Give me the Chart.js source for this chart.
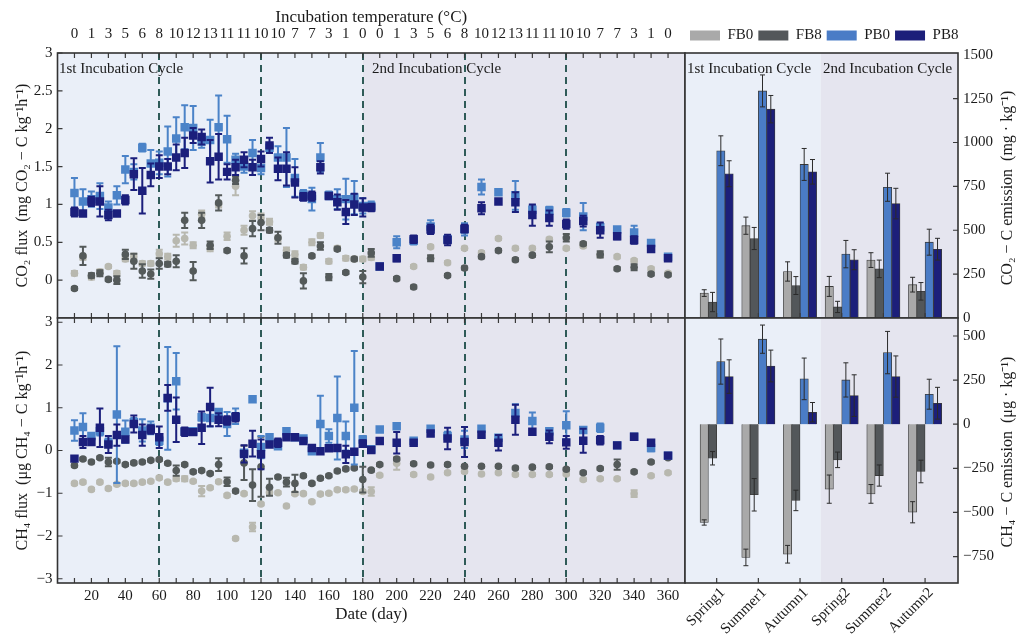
<!DOCTYPE html>
<html><head><meta charset="utf-8">
<script src="https://cdn.jsdelivr.net/npm/chart.js@4/dist/chart.umd.min.js"></script>
<style>
html,body{margin:0;padding:0;background:#fff;}
#wrap{position:relative;width:1018px;height:638px;overflow:hidden;}
canvas{position:absolute;left:0;top:0;}
</style></head><body>
<div id="wrap">
<canvas id="c1" width="1018" height="638"></canvas>
<canvas id="c2" width="1018" height="638"></canvas>
<canvas id="c3" width="1018" height="638"></canvas>
<canvas id="c4" width="1018" height="638"></canvas>
</div>
<script>
// ---------------- DATA ----------------
const days = [10,15,20,25,30,35,40,45,50,55,60,65,70,75,80,85,90,95,100,105,110,115,120,125,130,135,140,145,150,155,160,165,170,175,180,185,190,200,210,220,230,240,250,260,270,280,290,300,310,320,330,340,350,360];

const tempDays = [10,20,30,40,50,60,70,80,90,100,110,120,130,140,150,160,170,180,190,200,210,220,230,240,250,260,270,280,290,300,310,320,330,340,350,360];
const tempLabels = ['0','1','3','5','6','8','10','12','13','11','11','10','10','7','7','3','1','0','0','1','3','5','6','8','10','12','13','11','11','10','10','7','7','3','1','0'];

// CO2 flux (mg CO2-C kg-1 h-1)
const co2FB0 = [0.09,0.30,0.04,0.11,0.18,0.09,0.28,0.31,0.22,0.22,0.35,0.31,0.52,0.55,0.46,0.87,0.42,1.00,0.58,1.24,0.66,0.85,0.82,0.77,0.55,0.39,0.34,0.17,0.50,0.59,0.25,0.42,0.29,0.28,0.28, 0.30,null, null,0.18,0.44,0.23,0.42,0.36,0.55,0.42,0.42,0.54,0.42,0.45,0.33,0.31,0.26,0.15,0.09];
const co2FB0Err = [0.03,0.03,0.03,0.03,0.02,0.03,0.03,0.04,0.03,0.03,0.05,0.04,0.08,0.08,0.04,0.05,0.04,0.04,0.05,0.12,0.06,0.06,0.06,0.04,0.04,0.04,0.04,0.03,0.04,0.03,0.03,0.03,0.03,0.03,0.03, 0.03,0, 0,0.02,0.02,0.02,0.02,0.02,0.02,0.02,0.02,0.02,0.02,0.02,0.02,0.02,0.02,0.02,0.02];
const co2FB8 = [-0.11,0.32,0.06,0.09,0.01,0.00,0.34,0.25,0.12,0.08,0.22,0.21,0.25,0.79,0.12,0.79,0.46,1.02,0.39,1.32,0.32,0.68,0.76,0.66,0.56,0.33,0.25,-0.01,0.32,0.45,0.04,0.41,0.10,0.28,0.04, 0.36,null, 0.02,-0.09,0.29,0.06,0.16,0.31,0.39,0.27,0.33,0.44,0.56,0.48,0.34,0.15,0.17,0.08,0.07];
const co2FB8Err = [0.02,0.12,0.03,0.04,0.02,0.05,0.06,0.10,0.09,0.06,0.07,0.03,0.08,0.10,0.12,0.10,0.05,0.10,0.02,0.05,0.10,0.10,0.10,0.03,0.08,0.03,0.03,0.10,0.02,0.05,0.04,0.02,0.02,0.02,0.08, 0.05,0, 0.02,0.02,0.04,0.02,0.02,0.02,0.02,0.02,0.02,0.07,0.05,0.02,0.04,0.02,0.04,0.02,0.02];
const co2PB0 = [1.15,1.04,1.07,1.11,0.96,1.12,1.46,1.43,1.75,1.54,1.55,1.70,1.87,2.02,2.01,1.83,1.85,2.02,1.86,1.59,1.50,1.68,1.48,1.75,1.62,1.62,1.35,1.13,1.07,1.62,1.12,1.07,1.07,1.09,0.98, 0.98,0.18, 0.50,0.52,0.71,0.54,0.67,1.23,1.16,1.12,0.93,0.92,0.89,0.84,0.70,0.67,0.63,0.49,0.31];
const co2PB0Err = [0.20,0.16,0.10,0.17,0.08,0.12,0.18,0.10,0.05,0.18,0.15,0.33,0.28,0.29,0.29,0.08,0.27,0.42,0.31,0.08,0.08,0.17,0.08,0.05,0.15,0.39,0.25,0.06,0.15,0.19,0.05,0.13,0.27,0.22,0.10, 0.06,0, 0.08,0.05,0.08,0.05,0.08,0.10,0.03,0.19,0.06,0.05,0.05,0.18,0.05,0.03,0.09,0.03,0.03];
const co2PB8 = [0.90,0.88,1.04,1.04,0.86,0.88,1.06,1.40,1.18,1.39,1.50,1.50,1.62,1.68,1.91,1.89,1.57,1.63,1.43,1.49,1.59,1.49,1.60,1.78,1.47,1.47,1.29,1.10,1.11,1.49,1.11,1.03,0.90,1.00,0.96, 0.96,0.18, 0.29,0.54,0.67,0.53,0.68,0.95,1.04,1.03,0.86,0.82,0.74,0.78,0.66,0.58,0.53,0.41,0.29];
const co2PB8Err = [0.06,0.02,0.06,0.20,0.07,0.02,0.06,0.21,0.30,0.15,0.15,0.10,0.17,0.20,0.10,0.10,0.28,0.30,0.10,0.10,0.10,0.10,0.10,0.10,0.15,0.22,0.20,0.05,0.06,0.08,0.03,0.10,0.16,0.14,0.12, 0.05,0.02, 0.04,0.05,0.06,0.07,0.05,0.08,0.03,0.13,0.14,0.10,0.06,0.07,0.10,0.04,0.05,0.03,0.03];

// CH4 flux (ug CH4-C kg-1 h-1)
const ch4FB0 = [-0.77,-0.74,-0.91,-0.74,-0.89,-0.79,-0.77,-0.77,-0.74,-0.72,-0.64,-0.74,-0.66,-0.66,-0.72,-0.95,-0.87,-0.73,-1.05,-2.06,-1.01,-1.79,-1.25,-0.98,-0.99,-1.30,-1.01,-1.01,-1.20,-1.02,-1.00,-0.92,-0.92,-0.90,-0.96, -0.96,-0.58, -0.30,-0.56,-0.62,-0.52,-0.49,-0.55,-0.52,-0.56,-0.56,-0.56,-0.55,-0.68,-0.66,-0.66,-1.01,-0.59,-0.52];
const ch4FB0Err = [0.03,0.03,0.03,0.03,0.03,0.03,0.03,0.03,0.03,0.03,0.03,0.03,0.05,0.06,0.03,0.12,0.03,0.03,0.03,0.03,0.03,0.10,0.03,0.03,0.03,0.03,0.03,0.03,0.03,0.03,0.03,0.03,0.03,0.03,0.03, 0.10,0.03, 0.15,0.03,0.03,0.03,0.03,0.03,0.03,0.03,0.03,0.03,0.03,0.03,0.03,0.03,0.08,0.03,0.03];
const ch4FB8 = [-0.35,-0.20,-0.27,-0.17,-0.27,-0.25,-0.33,-0.29,-0.27,-0.23,-0.21,-0.30,-0.47,-0.33,-0.50,-0.47,-0.54,-0.33,-0.73,-0.95,-0.29,-0.81,-0.38,-0.86,-0.62,-0.74,-0.77,-0.59,-0.77,-0.65,-0.59,-0.48,-0.43,-0.41,-0.68, -0.46,-0.33, -0.20,-0.31,-0.34,-0.33,-0.37,-0.37,-0.37,-0.41,-0.39,-0.38,-0.44,-0.52,-0.42,-0.33,-0.50,-0.27,-0.17];
const ch4FB8Err = [0.03,0.03,0.03,0.03,0.10,0.03,0.03,0.03,0.03,0.03,0.03,0.03,0.12,0.03,0.03,0.03,0.03,0.15,0.10,0.03,0.40,0.37,0.70,0.20,0.03,0.10,0.20,0.03,0.03,0.03,0.03,0.03,0.03,0.03,0.30, 0.03,0.03, 0.03,0.03,0.03,0.03,0.03,0.03,0.03,0.03,0.03,0.03,0.03,0.03,0.03,0.12,0.03,0.03,0.03];
const ch4PB0 = [0.47,0.55,0.34,0.45,0.18,0.84,0.44,0.66,0.47,0.53,0.23,1.22,1.62,0.45,0.45,0.78,0.76,0.90,0.62,0.80,-0.05,1.20,0.08,0.31,0.10,0.45,0.31,0.28,-0.02,0.62,0.34,0.76,0.34,1.00,0.26, 0.03,0.49, 0.57,0.23,0.51,0.34,0.26,0.51,0.30,0.88,0.69,0.45,0.59,0.48,0.53,0.12,0.32,0.06,-0.12];
const ch4PB0Err = [0.24,0.32,0.05,0.10,0.10,1.60,0.26,0.10,0.26,0.15,0.10,1.20,0.66,0.05,0.05,0.08,0.20,0.05,0.28,0.18,0.05,0.03,0.26,0.05,0.05,0.05,0.05,0.05,0.05,0.66,0.16,0.97,0.34,1.33,0.08, 0.05,0.05, 0.05,0.05,0.05,0.10,0.20,0.05,0.05,0.20,0.20,0.05,0.33,0.05,0.10,0.05,0.05,0.08,0.05];
const ch4PB8 = [-0.19,0.20,0.20,0.53,0.14,0.36,0.26,0.62,0.36,0.49,0.31,1.23,0.72,0.44,0.43,0.53,1.02,0.72,0.70,0.78,-0.08,0.16,-0.09,0.14,0.18,0.31,0.31,0.22,0.06,-0.02,0.05,0.06,-0.09,-0.03,0.16, 0.01,0.22, 0.18,0.18,0.40,0.28,0.20,0.37,0.18,0.72,0.44,0.32,0.19,0.23,0.24,0.12,0.32,0.18,-0.12];
const ch4PB8Err = [0.05,0.14,0.05,0.45,0.20,0.25,0.05,0.20,0.25,0.10,0.25,0.30,0.52,0.10,0.05,0.38,0.45,0.15,0.10,0.10,0.20,0.30,0.35,0.05,0.10,0.05,0.05,0.05,0.05,0.05,0.05,0.05,0.20,0.05,0.08, 0.03,0.05, 0.25,0.05,0.05,0.25,0.35,0.05,0.18,0.35,0.05,0.15,0.15,0.28,0.10,0.05,0.05,0.05,0.05];

// Cumulative emissions per season
const seasons = ['Spring1','Summer1','Autumn1','Spring2','Summer2','Autumn2'];
const co2EmFB0 = [142, 526, 265, 180, 330, 190];
const co2EmFB0Err = [19, 49, 55, 57, 42, 42];
const co2EmFB8 = [91, 453, 185, 63, 280, 152];
const co2EmFB8Err = [55, 63, 51, 32, 50, 50];
const co2EmPB0 = [953, 1294, 875, 364, 745, 432];
const co2EmPB0Err = [85, 91, 91, 78, 80, 74];
const co2EmPB8 = [822, 1190, 833, 332, 652, 392];
const co2EmPB8Err = [74, 78, 70, 57, 87, 62];

const ch4EmFB0 = [-557, -755, -737, -368, -395, -499];
const ch4EmFB0Err = [15, 47, 50, 80, 53, 60];
const ch4EmFB8 = [-193, -400, -432, -202, -291, -268];
const ch4EmFB8Err = [38, 92, 58, 44, 60, 64];
const ch4EmPB0 = [355, 482, 257, 251, 406, 170];
const ch4EmPB0Err = [128, 80, 118, 97, 120, 85];
const ch4EmPB8 = [270, 330, 68, 162, 270, 119];
const ch4EmPB8Err = [95, 90, 55, 118, 117, 90];

// ---------------- STYLE ----------------
const FONT = "'Liberation Serif','Times New Roman',serif";
Chart.defaults.font.family = FONT;
Chart.defaults.font.size = 15;
Chart.defaults.color = '#1b1b1b';
const COL = {FB0:'#b8b8af', FB8:'#545a5a', PB0:'#4b83c8', PB8:'#1b1f7c'};
const BCOL = {FB0:'#a9a9a9', FB8:'#53575a', PB0:'#4a7cc6', PB8:'#1c1f7a'};
const BG1 = '#eaeff8', BG2 = '#e5e5ef';
const minorDays = [];
for (let d = 10; d <= 360; d += 10) minorDays.push(d);

// ---------------- PLUGINS ----------------
function drawErrs(chart, idx) {
  const ds = chart.data.datasets[idx];
  if (!ds.errs) return;
  const meta = chart.getDatasetMeta(idx);
  const ys = chart.scales[meta.yAxisID];
  const ctx = chart.ctx;
  ctx.save();
  ctx.strokeStyle = ds.errColor; ctx.lineWidth = ds.errWidth;
  meta.data.forEach((el, i) => {
    const raw = ds.data[i];
    const v = (raw && typeof raw === 'object') ? raw.y : raw;
    const e = ds.errs[i];
    if (v === null || v === undefined || !e || !isFinite(el.x)) return;
    const x = el.x, y1 = ys.getPixelForValue(v + e), y2 = ys.getPixelForValue(v - e), c = ds.errCap;
    ctx.beginPath();
    ctx.moveTo(x, y1); ctx.lineTo(x, y2);
    ctx.moveTo(x - c, y1); ctx.lineTo(x + c, y1);
    ctx.moveTo(x - c, y2); ctx.lineTo(x + c, y2);
    ctx.stroke();
  });
  ctx.restore();
}
const errPlugin = {
  id: 'errs',
  beforeDatasetDraw(chart, args) { if (chart.data.datasets[args.index].errMode === 'before') drawErrs(chart, args.index); },
  afterDatasetDraw(chart, args) { if (chart.data.datasets[args.index].errMode === 'after') drawErrs(chart, args.index); }
};
const panelPlugin = {
  id: 'panel',
  beforeDraw(chart, args, o) {
    if (!o || !o.bands) return;
    const a = chart.chartArea, xs = chart.scales.x, ctx = chart.ctx;
    ctx.save();
    o.bands.forEach(b => {
      const x1 = Math.max(a.left, xs.getPixelForValue(b.from));
      const x2 = Math.min(a.right, xs.getPixelForValue(b.to));
      ctx.fillStyle = b.color; ctx.fillRect(x1, a.top, x2 - x1, a.bottom - a.top);
    });
    ctx.restore();
  },
  beforeDatasetsDraw(chart, args, o) {
    if (!o) return;
    const a = chart.chartArea, xs = chart.scales.x, ctx = chart.ctx;
    ctx.save();
    if (o.dashes) {
      ctx.strokeStyle = '#2f5b58'; ctx.lineWidth = 2; ctx.setLineDash([7, 5]);
      o.dashes.forEach(v => {
        const x = Math.round(xs.getPixelForValue(v));
        ctx.beginPath(); ctx.moveTo(x, a.top); ctx.lineTo(x, a.bottom); ctx.stroke();
      });
      ctx.setLineDash([]);
    }
    if (o.notes) {
      ctx.fillStyle = '#1b1b1b'; ctx.font = '15px ' + FONT; ctx.textAlign = 'left'; ctx.textBaseline = 'alphabetic';
      o.notes.forEach(n => ctx.fillText(n.text, n.x, n.y));
    }
    ctx.restore();
  },
  afterDraw(chart, args, o) {
    if (!o) return;
    const a = chart.chartArea, xs = chart.scales.x, ys = chart.scales.y, ctx = chart.ctx;
    ctx.save();
    ctx.strokeStyle = '#3a3a3a'; ctx.lineWidth = 1.2;
    const L = 5;
    if (o.xt) {
      ctx.beginPath();
      o.xt.vals.forEach(v => {
        const x = xs.getPixelForValue(v);
        if (o.xt.bottom) { ctx.moveTo(x, a.bottom); ctx.lineTo(x, a.bottom - L); }
        if (o.xt.top) { ctx.moveTo(x, a.top); ctx.lineTo(x, a.top + L); }
      });
      ctx.stroke();
    }
    if (o.yt) {
      ctx.beginPath();
      o.yt.vals.forEach(v => {
        const y = ys.getPixelForValue(v);
        if (o.yt.left) { ctx.moveTo(a.left, y); ctx.lineTo(a.left + L, y); }
        if (o.yt.right) { ctx.moveTo(a.right, y); ctx.lineTo(a.right - L, y); }
      });
      ctx.stroke();
    }
    ctx.lineWidth = 1.6; ctx.strokeStyle = '#333';
    ctx.strokeRect(a.left, a.top, a.right - a.left, a.bottom - a.top);
    if (o.sideTitle) {
      const s = o.sideTitle;
      ctx.translate(s.x, s.y); ctx.rotate(-Math.PI / 2);
      ctx.fillStyle = '#1b1b1b'; ctx.font = '16px ' + FONT; ctx.textAlign = 'center'; ctx.textBaseline = 'middle';
      ctx.fillText(s.text, 0, 0);
    }
    ctx.restore();
  }
};
Chart.register(errPlugin, panelPlugin);

// ---------------- HELPERS ----------------
function scatterSet(label, vals, errs, color, style, r, order) {
  return {
    label, data: days.map((d, i) => ({x: d, y: vals[i]})),
    errs, errColor: color, errMode: 'before', errWidth: 2, errCap: 3.5,
    backgroundColor: color, borderColor: color, borderWidth: 0,
    pointStyle: style, pointRadius: r, showLine: false, order
  };
}
function barSet(label, vals, errs, color) {
  return {
    label, data: vals.map((v, i) => ({x: i, y: v})),
    errs, errColor: '#2b2b2b', errMode: 'after', errWidth: 1, errCap: 2.5,
    backgroundColor: color, borderColor: '#3a3a3a', borderWidth: 0.8,
    barThickness: 8.3, grouped: true
  };
}
const setTicks = arr => (s => { s.ticks = arr.map(v => ({value: v})); });
const minus = v => (v < 0 ? '\u2212' + Math.abs(v) : '' + v);
const commonOpts = {responsive: false, animation: false, events: []};

// ---------------- TOP-LEFT: CO2 flux ----------------
new Chart(document.getElementById('c1'), {
  type: 'scatter',
  data: {datasets: [
    scatterSet('FB0', co2FB0, co2FB0Err, COL.FB0, 'circle', 3.8, 4),
    scatterSet('FB8', co2FB8, co2FB8Err, COL.FB8, 'circle', 3.8, 3),
    scatterSet('PB0', co2PB0, co2PB0Err, COL.PB0, 'rect', 6, 2),
    scatterSet('PB8', co2PB8, co2PB8Err, COL.PB8, 'rect', 6, 1)
  ]},
  options: Object.assign({}, commonOpts, {
    layout: {padding: {left: 0, top: 0, right: 333, bottom: 320}},
    scales: {
      x: {type: 'linear', min: 0, max: 370, display: false},
      xTop: {type: 'linear', position: 'top', min: 0, max: 370,
        grid: {display: false, drawTicks: false}, border: {display: false},
        afterBuildTicks: setTicks(tempDays),
        ticks: {autoSkip: false, maxRotation: 0, minRotation: 0, padding: 10, font: {size: 15}, callback: (v, i) => tempLabels[i]},
        title: {display: true, text: 'Incubation temperature (\u00B0C)', font: {size: 17}, padding: {top: 7, bottom: 0}},
        afterFit: s => { s.height = 53; }},
      y: {type: 'linear', min: -0.5, max: 3,
        grid: {display: false, drawTicks: false}, border: {display: false},
        afterBuildTicks: setTicks([0, 0.5, 1, 1.5, 2, 2.5, 3]),
        ticks: {padding: 5, font: {size: 15}, callback: v => minus(v)},
        title: {display: true, text: 'CO\u2082 flux  (mg CO\u2082 \u2212 C kg\u207B\u00B9h\u207B\u00B9)', font: {size: 16}, padding: {top: 13, bottom: 0}},
        afterFit: s => { s.width = 57.5; }}
    },
    plugins: {legend: {display: false}, tooltip: {enabled: false},
      panel: {
        bands: [{from: 0, to: 180, color: BG1}, {from: 180, to: 370, color: BG2}],
        dashes: [60, 120, 180, 240, 300],
        notes: [{text: '1st Incubation Cycle', x: 59, y: 73}, {text: '2nd Incubation Cycle', x: 372, y: 73}],
        xt: {vals: minorDays, top: true, bottom: true},
        yt: {vals: [0, 0.5, 1, 1.5, 2, 2.5, 3], left: true}
      }}
  })
});

// ---------------- BOTTOM-LEFT: CH4 flux ----------------
new Chart(document.getElementById('c2'), {
  type: 'scatter',
  data: {datasets: [
    scatterSet('FB0', ch4FB0, ch4FB0Err, COL.FB0, 'circle', 3.8, 4),
    scatterSet('FB8', ch4FB8, ch4FB8Err, COL.FB8, 'circle', 3.8, 3),
    scatterSet('PB0', ch4PB0, ch4PB0Err, COL.PB0, 'rect', 6, 2),
    scatterSet('PB8', ch4PB8, ch4PB8Err, COL.PB8, 'rect', 6, 1)
  ]},
  options: Object.assign({}, commonOpts, {
    layout: {padding: {left: 0, top: 318, right: 333, bottom: 0}},
    scales: {
      x: {type: 'linear', position: 'bottom', min: 0, max: 370,
        grid: {display: false, drawTicks: false}, border: {display: false},
        afterBuildTicks: setTicks([20,40,60,80,100,120,140,160,180,200,220,240,260,280,300,320,340,360]),
        ticks: {autoSkip: false, maxRotation: 0, minRotation: 0, padding: 4, font: {size: 15}},
        title: {display: true, text: 'Date (day)', font: {size: 17}, padding: {top: 0, bottom: 13}},
        afterFit: s => { s.height = 55; }},
      y: {type: 'linear', min: -3.1, max: 3.1,
        grid: {display: false, drawTicks: false}, border: {display: false},
        afterBuildTicks: setTicks([-3, -2, -1, 0, 1, 2, 3]),
        ticks: {padding: 5, font: {size: 15}, callback: v => minus(v)},
        title: {display: true, text: 'CH\u2084 flux  (\u03BCg CH\u2084 \u2212 C kg\u207B\u00B9h\u207B\u00B9)', font: {size: 16}, padding: {top: 13, bottom: 0}},
        afterFit: s => { s.width = 57.5; }}
    },
    plugins: {legend: {display: false}, tooltip: {enabled: false},
      panel: {
        bands: [{from: 0, to: 180, color: BG1}, {from: 180, to: 370, color: BG2}],
        dashes: [60, 120, 180, 240, 300],
        xt: {vals: minorDays, bottom: true, top: true},
        yt: {vals: [-3, -2, -1, 0, 1, 2, 3], left: true}
      }}
  })
});

// ---------------- TOP-RIGHT: CO2-C emission ----------------
const catMin = -0.76, catMax = 5.79;
new Chart(document.getElementById('c3'), {
  type: 'bar',
  data: {datasets: [
    barSet('FB0', co2EmFB0, co2EmFB0Err, BCOL.FB0),
    barSet('FB8', co2EmFB8, co2EmFB8Err, BCOL.FB8),
    barSet('PB0', co2EmPB0, co2EmPB0Err, BCOL.PB0),
    barSet('PB8', co2EmPB8, co2EmPB8Err, BCOL.PB8)
  ]},
  options: Object.assign({}, commonOpts, {
    layout: {padding: {left: 685, top: 23, right: 0, bottom: 320}},
    scales: {
      x: {type: 'linear', min: catMin, max: catMax, offset: false, display: false},
      y: {type: 'linear', position: 'right', min: 0, max: 1510,
        grid: {display: false, drawTicks: false}, border: {display: false},
        afterBuildTicks: setTicks([0, 250, 500, 750, 1000, 1250, 1500]),
        ticks: {padding: 5, font: {size: 15}, callback: v => minus(v)},
        afterFit: s => { s.width = 60; }}
    },
    plugins: {tooltip: {enabled: false},
      legend: {display: true, position: 'top', align: 'start',
        labels: {boxWidth: 30, boxHeight: 10, padding: 5, font: {size: 15}, color: '#1b1b1b',
          generateLabels: ch => Chart.defaults.plugins.legend.labels.generateLabels(ch).map(l => Object.assign(l, {strokeStyle: l.fillStyle, lineWidth: 0}))}},
      panel: {
        bands: [{from: catMin, to: 2.5, color: BG1}, {from: 2.5, to: catMax, color: BG2}],
        notes: [{text: '1st Incubation Cycle', x: 687, y: 73}, {text: '2nd Incubation Cycle', x: 823, y: 73}],
        xt: {vals: [0, 1, 2, 3, 4, 5], bottom: true},
        yt: {vals: [250, 500, 750, 1000, 1250], right: true},
        sideTitle: {text: 'CO\u2082 \u2212 C emission  (mg \u00B7 kg\u207B\u00B9)', x: 1008, y: 188}
      }}
  })
});

// ---------------- BOTTOM-RIGHT: CH4-C emission ----------------
new Chart(document.getElementById('c4'), {
  type: 'bar',
  data: {datasets: [
    barSet('FB0', ch4EmFB0, ch4EmFB0Err, BCOL.FB0),
    barSet('FB8', ch4EmFB8, ch4EmFB8Err, BCOL.FB8),
    barSet('PB0', ch4EmPB0, ch4EmPB0Err, BCOL.PB0),
    barSet('PB8', ch4EmPB8, ch4EmPB8Err, BCOL.PB8)
  ]},
  options: Object.assign({}, commonOpts, {
    layout: {padding: {left: 685, top: 318, right: 0, bottom: 0}},
    scales: {
      x: {type: 'linear', position: 'bottom', min: catMin, max: catMax, offset: false,
        grid: {display: false, drawTicks: false, offset: false}, border: {display: false},
        afterBuildTicks: setTicks([0, 1, 2, 3, 4, 5]),
        ticks: {autoSkip: false, minRotation: 45, maxRotation: 45, padding: 1, labelOffset: 6, font: {size: 15}, callback: v => seasons[Math.round(v)]},
        afterFit: s => { s.height = 55; }},
      y: {type: 'linear', position: 'right', min: -900, max: 602,
        grid: {display: false, drawTicks: false}, border: {display: false},
        afterBuildTicks: setTicks([-750, -500, -250, 0, 250, 500]),
        ticks: {padding: 5, font: {size: 15}, callback: v => minus(v)},
        afterFit: s => { s.width = 60; }}
    },
    plugins: {legend: {display: false}, tooltip: {enabled: false},
      panel: {
        bands: [{from: catMin, to: 2.5, color: BG1}, {from: 2.5, to: catMax, color: BG2}],
        xt: {vals: [0, 1, 2, 3, 4, 5], bottom: true},
        yt: {vals: [-750, -500, -250, 0, 250, 500], right: true},
        sideTitle: {text: 'CH\u2084 \u2212 C emission  (\u03BCg \u00B7 kg\u207B\u00B9)', x: 1008, y: 452}
      }}
  })
});
</script>
</body></html>
